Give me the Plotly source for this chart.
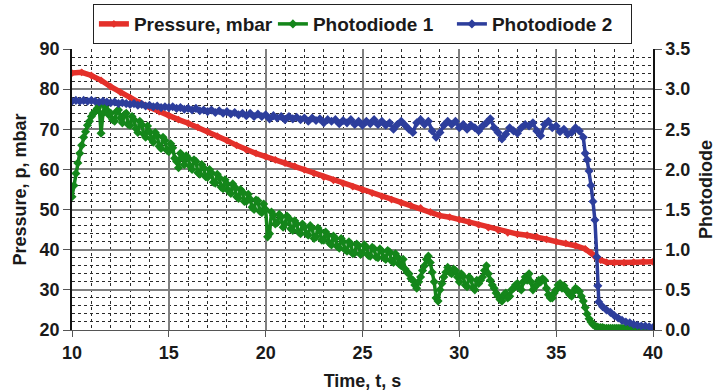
import plotly.graph_objects as go

# ---------------- data ----------------
# Pressure (left axis, mbar)
time_p = [10.0, 10.5, 11.0, 11.5, 12.0, 12.5, 13.0, 13.5, 14.0, 14.5,
          15.0, 15.5, 16.0, 16.5, 17.0, 17.5, 18.0, 18.5, 19.0, 19.5,
          20.0, 20.5, 21.0, 21.5, 22.0, 22.5, 23.0, 23.5, 24.0, 24.5,
          25.0, 25.5, 26.0, 26.5, 27.0, 27.5, 28.0, 28.5, 29.0, 29.5,
          30.0, 30.5, 31.0, 31.5, 32.0, 32.5, 33.0, 33.5, 34.0, 34.5,
          35.0, 35.5, 36.0, 36.5, 36.8, 37.0, 37.3, 37.6, 38.0, 38.5,
          39.0, 39.5, 40.0]
pressure = [84.0, 84.2, 83.4, 82.2, 80.6, 79.2, 77.9, 76.6, 75.5, 74.4,
            73.4, 72.4, 71.5, 70.5, 69.4, 68.3, 67.2, 66.0, 64.9, 64.0,
            63.2, 62.4, 61.6, 60.8, 59.9, 59.0, 58.1, 57.3, 56.5, 55.7,
            54.9, 54.1, 53.3, 52.5, 51.7, 51.0, 50.4, 49.4, 48.5, 48.1,
            47.5, 46.9, 46.2, 45.5, 44.9, 44.2, 43.9, 43.6, 43.2, 42.6,
            42.0, 41.6, 41.0, 40.2, 39.2, 38.3, 37.4, 36.9, 36.8, 36.8,
            36.9, 37.0, 37.0]

# Photodiode 1 (right axis), sampled every 0.1 s from 10.0 s to 40.0 s
pd1 = [
    1.66, 1.80, 1.95, 2.08, 2.20, 2.30, 2.40, 2.47, 2.55, 2.60,
    2.66, 2.70, 2.72, 2.76, 2.80, 2.45, 2.70, 2.78, 2.74, 2.68,
    2.70, 2.62, 2.60, 2.72, 2.74, 2.64, 2.58, 2.68, 2.70, 2.56,
    2.55, 2.66, 2.62, 2.51, 2.46, 2.60, 2.56, 2.44, 2.40, 2.54,
    2.47, 2.38, 2.34, 2.46, 2.42, 2.29, 2.26, 2.40, 2.36, 2.24,
    2.22, 2.32, 2.27, 2.14, 2.10, 2.02, 2.20, 2.15, 2.06, 2.17,
    2.14, 2.04, 2.00, 2.12, 2.10, 1.96, 1.94, 2.06, 2.02, 1.91,
    1.90, 2.00, 1.96, 1.84, 1.83, 1.94, 1.90, 1.78, 1.76, 1.87,
    1.82, 1.73, 1.70, 1.82, 1.78, 1.66, 1.64, 1.75, 1.72, 1.60,
    1.60, 1.69, 1.63, 1.53, 1.50, 1.62, 1.61, 1.48, 1.46, 1.57,
    1.50, 1.16, 1.20, 1.47, 1.43, 1.32, 1.34, 1.44, 1.41, 1.28,
    1.32, 1.42, 1.39, 1.26, 1.24, 1.36, 1.32, 1.22, 1.20, 1.32,
    1.28, 1.20, 1.18, 1.30, 1.27, 1.14, 1.16, 1.27, 1.23, 1.12,
    1.12, 1.22, 1.18, 1.08, 1.06, 1.17, 1.14, 1.04, 1.02, 1.14,
    1.10, 1.00, 0.98, 1.10, 1.07, 0.95, 0.96, 1.07, 1.05, 0.94,
    0.96, 1.06, 1.03, 0.93, 0.92, 1.03, 1.01, 0.91, 0.90, 1.01,
    0.98, 0.90, 0.88, 0.99, 0.97, 0.86, 0.84, 0.95, 0.91, 0.82,
    0.80, 0.88, 0.76, 0.72, 0.70, 0.64, 0.62, 0.56, 0.52, 0.60,
    0.66, 0.74, 0.80, 0.88, 0.92, 0.84, 0.72, 0.60, 0.40, 0.36,
    0.50, 0.58, 0.66, 0.72, 0.78, 0.72, 0.70, 0.76, 0.74, 0.66,
    0.60, 0.70, 0.67, 0.56, 0.54, 0.66, 0.63, 0.53, 0.50, 0.62,
    0.58, 0.62, 0.66, 0.74, 0.80, 0.70, 0.62, 0.56, 0.52, 0.46,
    0.42, 0.38, 0.36, 0.44, 0.46, 0.40, 0.42, 0.50, 0.52, 0.56,
    0.58, 0.52, 0.50, 0.60, 0.66, 0.62, 0.70, 0.60, 0.50, 0.54,
    0.56, 0.62, 0.60, 0.64, 0.62, 0.52, 0.44, 0.40, 0.40, 0.46,
    0.50, 0.56, 0.58, 0.52, 0.55, 0.50, 0.48, 0.44, 0.42, 0.48,
    0.52, 0.50, 0.48, 0.42, 0.36, 0.28, 0.20, 0.14, 0.10, 0.07,
    0.05, 0.04, 0.03, 0.03, 0.03, 0.02, 0.02, 0.02, 0.02, 0.02,
    0.02, 0.02, 0.02, 0.02, 0.02, 0.02, 0.02, 0.02, 0.02, 0.02,
    0.01, 0.01, 0.01, 0.01, 0.01, 0.01, 0.01, 0.01, 0.01, 0.01,
    0.00,
]
time_pd1 = [round(10.0 + 0.1 * i, 2) for i in range(len(pd1))]

# Photodiode 2 (right axis)
pd2_steady = [
    2.85, 2.86, 2.85, 2.86, 2.85,
    2.86, 2.85, 2.84, 2.85, 2.84,
    2.83, 2.84, 2.82, 2.83, 2.82,
    2.81, 2.82, 2.80, 2.81, 2.79,
    2.80, 2.78, 2.79, 2.77, 2.78,
    2.77, 2.78, 2.76, 2.77, 2.75,
    2.76, 2.74, 2.76, 2.73, 2.74,
    2.72, 2.74, 2.71, 2.73, 2.70,
    2.72, 2.69, 2.71, 2.68, 2.70,
    2.67, 2.70, 2.66, 2.69, 2.66,
    2.68, 2.63, 2.67, 2.64, 2.66,
    2.62, 2.66, 2.63, 2.65, 2.62,
    2.64, 2.60, 2.64, 2.61, 2.63,
    2.58, 2.62, 2.60, 2.62, 2.57,
    2.61, 2.58, 2.62, 2.56, 2.60,
    2.55, 2.60, 2.57, 2.62, 2.56,
    2.60, 2.55, 2.58, 2.50, 2.56,
    2.60, 2.55, 2.50, 2.46, 2.58,
    2.62, 2.56, 2.60, 2.48, 2.40,
    2.46, 2.55, 2.60, 2.56, 2.60,
    2.52, 2.56, 2.50, 2.55, 2.52,
    2.48, 2.54, 2.58, 2.63, 2.52,
    2.46, 2.38, 2.44, 2.52, 2.48,
    2.45, 2.52, 2.56, 2.54, 2.58,
    2.48, 2.42, 2.56, 2.60, 2.52,
    2.54, 2.47, 2.50, 2.44, 2.46,
    2.52, 2.48, 2.40,
]
time_drop = [36.5, 36.6, 36.7, 36.8, 36.9, 37.0, 37.1, 37.15, 37.2]
pd2_drop = [2.20, 2.12, 1.98, 1.80, 1.60, 1.37, 0.91, 0.55, 0.35]
pd2_tail = [0.29, 0.25, 0.22, 0.18, 0.15, 0.12, 0.10, 0.09, 0.07, 0.06,
            0.05, 0.05, 0.04, 0.03]
time_pd2 = ([round(10.0 + 0.2 * i, 2) for i in range(len(pd2_steady))]
            + time_drop
            + [round(37.4 + 0.2 * i, 2) for i in range(len(pd2_tail))])
pd2 = pd2_steady + pd2_drop + pd2_tail

x_ticks = [10, 15, 20, 25, 30, 35, 40]

# ---------------- figure ----------------
FONT = "Liberation Sans, Arial, Helvetica, sans-serif"
RED = "#e4302a"
GREEN = "#14861a"
BLUE = "#2d3e9c"

fig = go.Figure()
fig.add_trace(go.Scatter(
    x=time_p, y=pressure, name="Pressure, mbar", mode="lines+markers",
    line=dict(color=RED, width=5.5),
    marker=dict(symbol="diamond", size=6, color=RED), yaxis="y"))
fig.add_trace(go.Scatter(
    x=time_pd1, y=pd1, name="Photodiode 1", mode="lines+markers",
    line=dict(color=GREEN, width=3.5),
    marker=dict(symbol="diamond", size=7, color=GREEN), yaxis="y2"))
fig.add_trace(go.Scatter(
    x=time_pd2, y=pd2, name="Photodiode 2", mode="lines+markers",
    line=dict(color=BLUE, width=3.5),
    marker=dict(symbol="diamond", size=7, color=BLUE), yaxis="y2"))

axis_font = dict(family=FONT, size=18, color="#1a1a1a", weight="bold")
legend_font = dict(family=FONT, size=19, color="#1a1a1a", weight="bold")
minor_grid = dict(showgrid=True, gridcolor="#2a2a2a", griddash="dot", gridwidth=1, ticks="")

fig.update_layout(
    width=716, height=392,
    margin=dict(l=72, r=63, t=49, b=62, autoexpand=False),
    paper_bgcolor="white", plot_bgcolor="white",
    font=dict(family=FONT, size=18, color="#1a1a1a", weight="bold"),
    showlegend=True,
    legend=dict(
        orientation="h", x=0.036, xanchor="left", y=1.16, yanchor="top",
        bordercolor="#222", borderwidth=1, bgcolor="white",
        font=legend_font, itemwidth=30, entrywidth=134,
    ),
    xaxis=dict(
        range=[10, 40], tickvals=x_ticks, ticks="outside", ticklen=6,
        tickcolor="#555", tickfont=axis_font,
        showgrid=True, gridcolor="#808080", gridwidth=1.5,
        minor=dict(dtick=1, **minor_grid),
        showline=True, linecolor="#555", linewidth=1, zeroline=False,
        title=dict(text="Time, t, s", font=axis_font, standoff=12),
    ),
    yaxis=dict(
        range=[20, 90], dtick=10, ticks="outside", ticklen=7,
        tickcolor="#555", tickfont=axis_font,
        showgrid=True, gridcolor="#808080", gridwidth=1.5,
        minor=dict(dtick=2, **minor_grid),
        showline=True, linecolor="#111", linewidth=1.5, zeroline=False,
        title=dict(text="Pressure, p, mbar", font=axis_font, standoff=8),
    ),
    yaxis2=dict(
        range=[0, 3.5], dtick=0.5, tickformat=".1f", overlaying="y",
        side="right", ticks="outside", ticklen=7, tickcolor="#555",
        tickfont=axis_font, showgrid=False, zeroline=False,
        showline=True, linecolor="#111", linewidth=1.5,
        title=dict(text="Photodiode", font=axis_font, standoff=12),
    ),
)

fig.write_html("out.html")
